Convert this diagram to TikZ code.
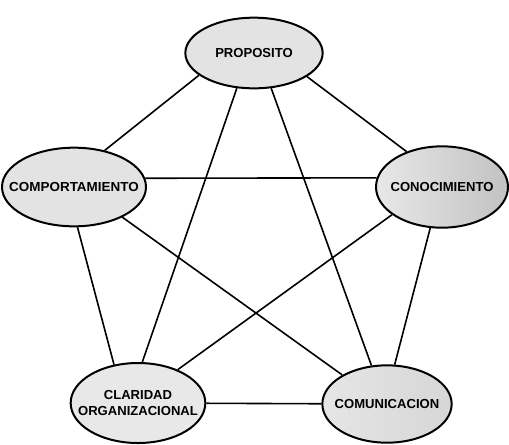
\documentclass[tikz,border=0pt]{standalone}
\usepackage{fontspec}
\setmainfont{Liberation Sans}
\usepackage{tikz}
\usetikzlibrary{shapes.geometric}

\begin{document}
\begin{tikzpicture}[x=0.75pt,y=-0.75pt,
    bubble/.style={ellipse,draw=black,line width=1.5pt,fill=gray!22,inner sep=0pt},
    tag/.style={font=\fontsize{9.8}{12.7}\selectfont\bfseries,align=center,inner sep=0pt},
    link/.style={black,line width=1.2pt}]
    \useasboundingbox (0,0) rectangle (509,444);
    % nodes
    \node[bubble,minimum width=103pt,minimum height=53pt,label={[tag]center:PROPOSITO}] (prop) at (254,53) {};
    \node[bubble,minimum width=108pt,minimum height=59pt,label={[tag,xscale=1.03]center:COMPORTAMIENTO}] (comp) at (74,187) {};
    \node[bubble,minimum width=99pt,minimum height=61pt,left color=gray!18,right color=gray!48,label={[tag]center:CONOCIMIENTO}] (cono) at (442,187) {};
    \node[bubble,minimum width=101pt,minimum height=60pt,fill=gray!18,label={[tag]center:CLARIDAD\\ORGANIZACIONAL}] (clar) at (138,403) {};
    \node[bubble,minimum width=97pt,minimum height=58pt,left color=gray!20,right color=gray!32,label={[tag]center:COMUNICACION}] (comu) at (387,404) {};
    % connectors
    \draw[link] (prop.202) -- (comp.50);
    \draw[link] (prop.336) -- (cono.135);
    \draw[link] (prop.244) -- (clar.84);
    \draw[link] (prop.296) -- (comu.112);
    \draw[link] (comp.7) -- (cono.172);
    \draw[link] (comp.275) -- (clar.122);
    \draw[link] (comp.328) -- (comu.147);
    \draw[link] (cono.209) -- (clar.40);
    \draw[link] (cono.254) -- (comu.79);
    \draw[link] (clar) -- (comu);
  \end{tikzpicture}
\end{document}
